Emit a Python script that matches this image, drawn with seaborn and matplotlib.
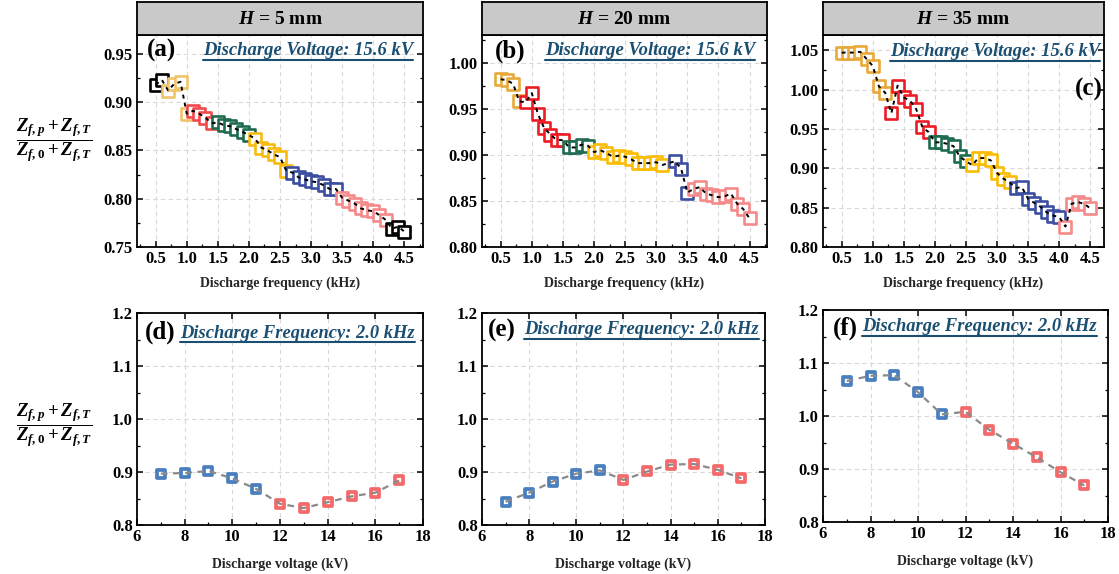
import numpy as np
import pandas as pd
import matplotlib
matplotlib.use("Agg")
import matplotlib.pyplot as plt
import seaborn as sns
from matplotlib.ticker import MultipleLocator, FormatStrFormatter
from matplotlib.lines import Line2D

sns.set_theme(style="white")
plt.rcParams["font.family"] = ["Liberation Serif", "DejaVu Serif"]
plt.rcParams["font.weight"] = "bold"
plt.rcParams["mathtext.fontset"] = "custom"
plt.rcParams["mathtext.rm"] = "Liberation Serif:bold"
plt.rcParams["mathtext.it"] = "Liberation Serif:italic:bold"
plt.rcParams["mathtext.bf"] = "Liberation Serif:bold"

# ---------------- data ----------------
freq_a = [0.5, 0.6, 0.7, 0.8, 0.9, 1.0, 1.1, 1.2, 1.3, 1.4, 1.5, 1.6, 1.7, 1.8, 1.9, 2.0,
          2.1, 2.2, 2.3, 2.4, 2.5, 2.6, 2.7, 2.8, 2.9, 3.0, 3.1, 3.2, 3.3, 3.4, 3.5, 3.6,
          3.7, 3.8, 3.9, 4.0, 4.1, 4.2, 4.3, 4.4, 4.5]
z_a = [0.918, 0.923,
       0.912, 0.919, 0.921, 0.888,
       0.891, 0.888, 0.884, 0.878,
       0.879, 0.876, 0.875, 0.872, 0.869, 0.866,
       0.862, 0.853, 0.850, 0.846, 0.843, 0.829,
       0.827, 0.822, 0.820, 0.818, 0.817, 0.814, 0.810, 0.810,
       0.801, 0.798, 0.795, 0.790, 0.788, 0.787, 0.783, 0.778,
       0.769, 0.771, 0.766]
counts_a = [2, 4, 4, 6, 6, 8, 8, 3]
colors_a = ["#000000", "#efc46a", "#f24a4a", "#1e6b4f", "#f7bb10", "#3b4ea0", "#f58a8a", "#000000"]

freq_b = [0.5, 0.6, 0.7, 0.8, 0.9, 1.0, 1.1, 1.2, 1.3, 1.4, 1.5, 1.6, 1.7, 1.8, 1.9, 2.0,
          2.1, 2.2, 2.3, 2.4, 2.5, 2.6, 2.7, 2.8, 2.9, 3.0, 3.1, 3.3, 3.4, 3.5, 3.6,
          3.7, 3.8, 3.9, 4.0, 4.1, 4.2, 4.3, 4.4, 4.5]
z_b = [0.982, 0.981, 0.977, 0.958,
       0.957, 0.967, 0.944, 0.929, 0.922, 0.916, 0.916,
       0.908, 0.908, 0.911, 0.910,
       0.903, 0.905, 0.902, 0.898, 0.899, 0.898, 0.895, 0.891, 0.891, 0.891, 0.892, 0.889,
       0.893, 0.885, 0.859,
       0.863, 0.865, 0.858, 0.856, 0.854, 0.855, 0.858, 0.847, 0.841, 0.831]
counts_b = [4, 7, 4, 12, 3, 10]
colors_b = ["#e8a93a", "#ec1c24", "#1e6b4f", "#fbbc05", "#3b4ea0", "#f58a8a"]

freq_c = freq_a
z_c = [1.047, 1.047, 1.047, 1.048, 1.039, 1.030, 1.004, 0.996,
       0.970, 1.005, 0.990, 0.986, 0.975, 0.952, 0.946,
       0.933, 0.933, 0.931, 0.928, 0.915, 0.909,
       0.904, 0.913, 0.913, 0.910, 0.894, 0.887, 0.882,
       0.875, 0.876, 0.861, 0.856, 0.851, 0.844, 0.840, 0.838,
       0.826, 0.855, 0.857, 0.855, 0.849]
counts_c = [8, 7, 6, 7, 8, 5]
colors_c = ["#e8a93a", "#ec1c24", "#1e6b4f", "#fbbc05", "#3b4ea0", "#f58a8a"]

volt = [7, 8, 9, 10, 11, 12, 13, 14, 15, 16, 17]
z_d = [0.897, 0.898, 0.902, 0.888, 0.868, 0.840, 0.832, 0.843, 0.854, 0.861, 0.884]
z_e = [0.844, 0.861, 0.882, 0.897, 0.903, 0.885, 0.901, 0.914, 0.915, 0.904, 0.888]
z_f = [1.066, 1.076, 1.077, 1.045, 1.003, 1.008, 0.974, 0.948, 0.922, 0.894, 0.869]
counts_v = [5, 6]
colors_v = ["#4a7fbf", "#f46a6a"]

titles = ["5", "20", "35"]
panel_labels = ["(a)", "(b)", "(c)", "(d)", "(e)", "(f)"]

W, H = 1119, 574
fig = plt.figure(figsize=(W / 100, H / 100), dpi=100)


def rect(l, t, r, b):
    return [l / W, 1 - b / H, (r - l) / W, (b - t) / H]


ANNOT_COLOR = "#1b4f72"
underline_items = []


def style_axes(ax):
    for s in ax.spines.values():
        s.set_visible(True)
        s.set_color("black")
        s.set_linewidth(1.3)
    ax.tick_params(which="both", direction="in", left=True, bottom=True, right=True, top=False,
                   labelsize=12, colors="black", pad=3)
    ax.tick_params(which="major", length=4, width=1.1)
    ax.tick_params(which="minor", length=2.2, width=0.9)
    ax.grid(True, which="major", color="#d9d9d9", linestyle=(0, (4, 3)), linewidth=0.8)
    ax.set_axisbelow(True)
    for lab in ax.get_xticklabels() + ax.get_yticklabels():
        lab.set_fontweight("bold")


top_rects = [rect(137, 34.5, 423, 247), rect(482, 35, 767, 247), rect(823, 34.5, 1104, 247)]
strip_rects = [rect(137, 2, 423, 34.5), rect(482, 2, 767, 35), rect(823, 2, 1104, 34.5)]
top_data = [(freq_a, z_a, counts_a, colors_a, (0.2, 4.8), (0.75, 0.97)),
            (freq_b, z_b, counts_b, colors_b, (0.2, 4.78), (0.80, 1.03)),
            (freq_c, z_c, counts_c, colors_c, (0.2, 4.72), (0.80, 1.07))]
lab_pos = [(0.036, 0.925, "left"), (0.044, 0.925, "left"), (0.996, 0.74, "right")]
ann_pos = [(0.965, 0.925), (0.958, 0.925), (0.986, 0.92)]

for i in range(3):
    fr, zz, cnts, cols, xl, yl = top_data[i]
    ax = fig.add_axes(top_rects[i])
    df = pd.DataFrame({"f": fr, "z": zz})
    start = 0
    for n, c in zip(cnts, cols):
        seg = df.iloc[start:start + n]
        sns.scatterplot(data=seg, x="f", y="z", ax=ax, marker="s", s=64, color="white",
                        edgecolor=c, linewidth=1.9, zorder=2)
        start += n
    sns.lineplot(data=df, x="f", y="z", ax=ax, color="black", linestyle=(0, (2, 2.2)),
                 linewidth=1.4, sort=False, estimator=None, zorder=3)
    ax.set_xlim(*xl)
    ax.set_ylim(*yl)
    ax.xaxis.set_major_locator(MultipleLocator(0.5))
    ax.xaxis.set_minor_locator(MultipleLocator(0.25))
    ax.yaxis.set_major_locator(MultipleLocator(0.05))
    ax.yaxis.set_minor_locator(MultipleLocator(0.025))
    ax.yaxis.set_major_formatter(FormatStrFormatter("%.2f"))
    ax.xaxis.set_major_formatter(FormatStrFormatter("%.1f"))
    style_axes(ax)
    ax.set_xlabel("Discharge frequency (kHz)", fontsize=10, fontweight="bold", labelpad=7)
    ax.set_ylabel("")
    lx, ly, ha = lab_pos[i]
    ax.text(lx, ly, panel_labels[i], transform=ax.transAxes, ha=ha, va="center",
            fontsize=18, fontweight="bold", color="black")
    t = ax.text(ann_pos[i][0], ann_pos[i][1], "Discharge Voltage: 15.6 kV", transform=ax.transAxes,
                ha="right", va="center", fontsize=13.4, fontweight="bold", fontstyle="italic",
                color=ANNOT_COLOR)
    underline_items.append(t)

    sax = fig.add_axes(strip_rects[i])
    sax.set_facecolor("#c9c9c9")
    sax.set_xticks([])
    sax.set_yticks([])
    for s in sax.spines.values():
        s.set_visible(True)
        s.set_color("black")
        s.set_linewidth(1.3)
    sax.text(0.5, 0.47, r"$H$ = " + titles[i] + " mm", transform=sax.transAxes, ha="center",
             va="center", fontsize=14, fontweight="bold", color="black")

bot_rects = [rect(137, 313, 423, 525), rect(482, 313, 765, 525), rect(823, 310, 1108, 522)]
bot_z = [z_d, z_e, z_f]
blab_pos = [(0.026, 0.91), (0.019, 0.92), (0.033, 0.915)]
bann_pos = [(0.972, 0.905), (0.979, 0.92), (0.96, 0.92)]

for i in range(3):
    ax = fig.add_axes(bot_rects[i])
    df = pd.DataFrame({"v": volt, "z": bot_z[i]})
    start = 0
    for n, c in zip(counts_v, colors_v):
        seg = df.iloc[start:start + n]
        sns.scatterplot(data=seg, x="v", y="z", ax=ax, marker="s", s=32, color="white",
                        edgecolor=c, linewidth=2.7, zorder=2)
        start += n
    sns.lineplot(data=df, x="v", y="z", ax=ax, color="#8a8a8a", linestyle=(0, (3, 2.5)),
                 linewidth=1.6, sort=False, estimator=None, zorder=3)
    ax.set_xlim(6, 18)
    ax.set_ylim(0.8, 1.2)
    ax.xaxis.set_major_locator(MultipleLocator(2))
    ax.xaxis.set_minor_locator(MultipleLocator(1))
    ax.yaxis.set_major_locator(MultipleLocator(0.1))
    ax.yaxis.set_minor_locator(MultipleLocator(0.05))
    ax.yaxis.set_major_formatter(FormatStrFormatter("%.1f"))
    style_axes(ax)
    ax.tick_params(top=True)
    ax.set_xlabel("Discharge voltage (kV)", fontsize=10, fontweight="bold", labelpad=9)
    ax.set_ylabel("")
    ax.text(blab_pos[i][0], blab_pos[i][1], panel_labels[3 + i], transform=ax.transAxes,
            ha="left", va="center", fontsize=18, fontweight="bold", color="black")
    t = ax.text(bann_pos[i][0], bann_pos[i][1], "Discharge Frequency: 2.0 kHz",
                transform=ax.transAxes, ha="right", va="center", fontsize=13.3,
                fontweight="bold", fontstyle="italic", color=ANNOT_COLOR)
    underline_items.append(t)

ylab = r"$\dfrac{Z_{f,p}+Z_{f,T}}{Z_{f,0}+Z_{f,T}}$"
fig.text(54 / W, 1 - 140 / H, ylab, ha="center", va="center", fontsize=13.5, color="black")
fig.text(54 / W, 1 - 425 / H, ylab, ha="center", va="center", fontsize=13.5, color="black")

fig.canvas.draw()
renderer = fig.canvas.get_renderer()
inv = fig.transFigure.inverted()
for t in underline_items:
    bb = t.get_window_extent(renderer=renderer)
    (x0, y0), (x1, y1) = inv.transform([[bb.x0, bb.y0], [bb.x1, bb.y1]])
    fig.add_artist(Line2D([x0, x1], [y0 - 0.8 / H, y0 - 0.8 / H], transform=fig.transFigure,
                          color=ANNOT_COLOR, linewidth=1.5))

fig.savefig("out.png", dpi=100)
